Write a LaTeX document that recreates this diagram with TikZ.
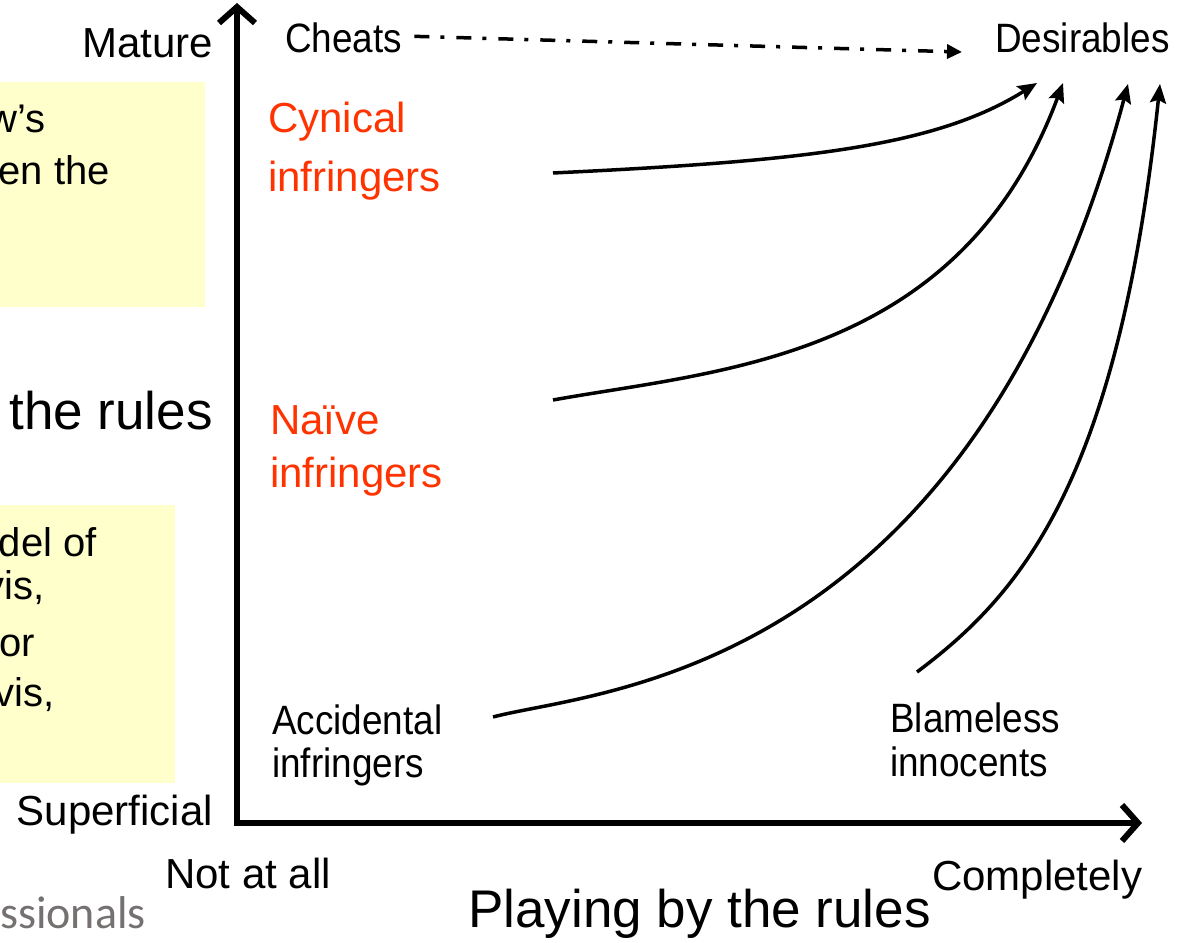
\documentclass[tikz,border=0pt]{standalone}
\usepackage{fontspec}
\setmainfont{Liberation Sans}
\newfontfamily\narrowsf{Liberation Sans}[FakeStretch=0.9]
\newfontfamily\logofont{Carlito}
\usetikzlibrary{arrows.meta,positioning}
\definecolor{infred}{RGB}{255,51,0}
\definecolor{noteyellow}{RGB}{255,255,204}
\definecolor{logogray}{RGB}{118,113,113}

\begin{document}
\begin{tikzpicture}[x=1pt,y=1pt,node distance=10pt,
		axis/.style={line width=6pt,line join=miter,{Straight Barb[length=16pt,width=36pt]}-{Straight Barb[length=16pt,width=36pt]}},
		trend/.style={line width=3.5pt,-{Stealth[length=19pt,width=16pt,inset=3pt]}},
		axislbl/.style={font=\fontsize{42}{50}\selectfont,inner sep=0pt},
		typelbl/.style={font=\narrowsf\fontsize{41}{48}\selectfont,inner sep=0pt},
		redlbl/.style={font=\fontsize{42}{50}\selectfont,text=infred,inner sep=0pt},
		notetxt/.style={font=\fontsize{40}{48}\selectfont,inner sep=0pt},
		titlelbl/.style={font=\fontsize{53}{60}\selectfont,inner sep=0pt}]
		\useasboundingbox (0,0) rectangle (1185,942);
		
		% note boxes cut by the left edge
		\fill[noteyellow] (0,635) rectangle (205,860);
		\fill[noteyellow] (0,159) rectangle (175,437);
		\node[notetxt,anchor=base east] (n1a) at (46,809) {w’s};
		\node[notetxt,anchor=base east] (n1b) at (110,757) {en the};
		\node[notetxt,anchor=base east] (n2a) at (97,385) {del of};
		\node[notetxt,anchor=base east] (n2b) at (45,342) {vis,};
		\node[notetxt,anchor=base east] (n2c) at (35,285) {or};
		\node[notetxt,anchor=base east] (n2d) at (55,235) {vis,};
		\node[titlelbl,anchor=base east] (ytitle) at (213,512) {the rules};
		\node[font=\logofont\fontsize{46}{54}\selectfont,text=logogray,inner sep=0pt,anchor=base west] (logo) at (0,14) {ssionals};
		
		% axes
		\coordinate (ytip)   at (237,939);
		\coordinate (origin) at (237,119);
		\coordinate (xtip)   at (1142,119);
		\draw[axis] (ytip) -- (origin) -- (xtip);
		
		\node[axislbl,anchor=base east] (mature) at (213,884) {Mature};
		\node[axislbl,anchor=base east] (superf) at (213,117) {Superficial};
		\node[axislbl,anchor=base west] (notall) at (165,54)  {Not at all};
		\node[axislbl,anchor=base west] (compl)  at (932,52)  {Completely};
		\node[titlelbl,anchor=base west] (xtitle) at (468,15) {Playing by the rules};
		
		% the groups
		\node[typelbl,anchor=base west] (cheats) at (285,889) {Cheats};
		\node[typelbl,anchor=base west] (des)    at (995,889) {Desirables};
		\node[redlbl,anchor=base west]  (cyn)    at (268,809) {Cynical};
		\node[redlbl]  (cyn2)   [below=59pt of cyn.base west,anchor=base west] {infringers};
		\node[redlbl,anchor=base west]  (naive)  at (270,507) {Naïve};
		\node[redlbl]  (naive2) [below=53pt of naive.base west,anchor=base west] {infringers};
		\node[typelbl,anchor=base west] (acc)    at (272,207) {Accidental};
		\node[typelbl] (acc2)   [below=43pt of acc.base west,anchor=base west] {infringers};
		\node[typelbl,anchor=base west] (blame)  at (890,209) {Blameless};
		\node[typelbl] (blame2) [below=44pt of blame.base west,anchor=base west] {innocents};
		
		% free ends of the paths
		\coordinate (cynS)   at (553,769);
		\coordinate (naiveS) at (553,542);
		\coordinate (accS)   at (493,225);
		\coordinate (blameS) at (917,270);
		\coordinate (cynE)   at (1037,859);
		\coordinate (naiveE) at (1063,859);
		\coordinate (accE)   at (1128,858);
		\coordinate (blameE) at (1160,858);
		\coordinate (cheatE) at (962,890);
		
		\draw[trend] (cynS) .. controls (803,781) and (935,795) .. (cynE);
		\draw[trend] (naiveS) .. controls (720,572) and (960,582) .. (naiveE);
		\draw[trend] (accS) .. controls (594,252) and (968,262) .. (accE);
		\draw[trend] (blameS) .. controls (1021,348) and (1118,460) .. (blameE);
		\draw[line width=3.5pt,dash pattern=on 15pt off 11pt on 4pt off 12pt,-{Triangle[length=15pt,width=14pt]}]
		(cheats.east) ++(12pt,2pt) -- (cheatE);
	\end{tikzpicture}
\end{document}
